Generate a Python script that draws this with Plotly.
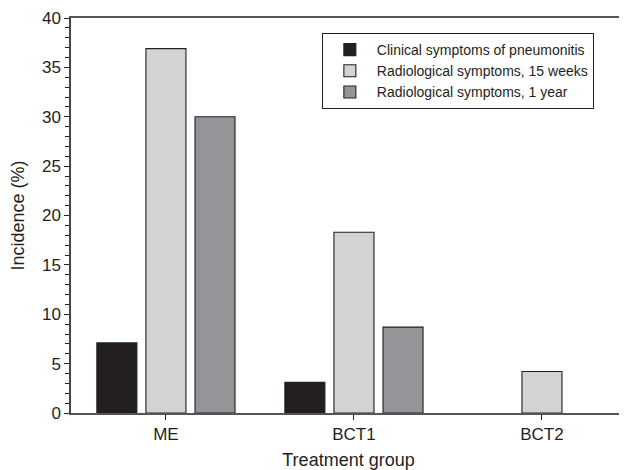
import plotly.graph_objects as go

categories = ["ME", "BCT1", "BCT2"]
series_names = [
    "Clinical symptoms of pneumonitis",
    "Radiological symptoms, 15 weeks",
    "Radiological symptoms, 1 year",
]
clinical = [7.1, 3.1, None]
radio_15w = [36.9, 18.3, 4.2]
radio_1y = [30.0, 8.7, None]

colors = ["#231f20", "#d1d3d4", "#939598"]
font_family = "Liberation Sans, Arial, Helvetica, sans-serif"
text_color = "#231f20"

fig = go.Figure()
for name, vals, col in zip(series_names, [clinical, radio_15w, radio_1y], colors):
    fig.add_trace(go.Bar(
        x=categories, y=vals, name=name,
        marker=dict(color=col, line=dict(color="#231f20", width=1.1)),
    ))

# the page body adds an 8px offset, so the figure is sized to fit the window
fig.update_layout(
    width=619, height=462,
    margin=dict(l=63, r=1, t=10, b=57),
    paper_bgcolor="white", plot_bgcolor="white",
    barmode="group", bargap=0.217, bargroupgap=0.184,
    font=dict(family=font_family, color=text_color, size=17),
    showlegend=True,
    legend=dict(
        x=0.452, y=0.962, xanchor="left", yanchor="top",
        bordercolor="#231f20", borderwidth=1,
        bgcolor="white",
        font=dict(size=14, family=font_family, color=text_color),
        itemwidth=44, tracegroupgap=0,
    ),
)
fig.update_xaxes(
    range=[-0.505, 2.447], automargin=False,
    showline=True, linecolor="#555555", linewidth=1.5, mirror=True,
    ticks="outside", ticklen=5, tickcolor="#231f20",
    showgrid=False, zeroline=False,
    title=dict(text="Treatment group", font=dict(size=18)),
    tickfont=dict(size=17),
)
fig.update_yaxes(
    range=[0, 40], dtick=5, automargin=False,
    showline=True, linecolor="#444444", linewidth=1.5,
    ticks="outside", ticklen=5, tickcolor="#231f20",
    minor=dict(dtick=1, ticks="outside", ticklen=4, tickcolor="#231f20"),
    showgrid=False, zeroline=False,
    title=dict(text="Incidence (%)", font=dict(size=18)),
    tickfont=dict(size=17),
)

fig.write_html("out.html")
